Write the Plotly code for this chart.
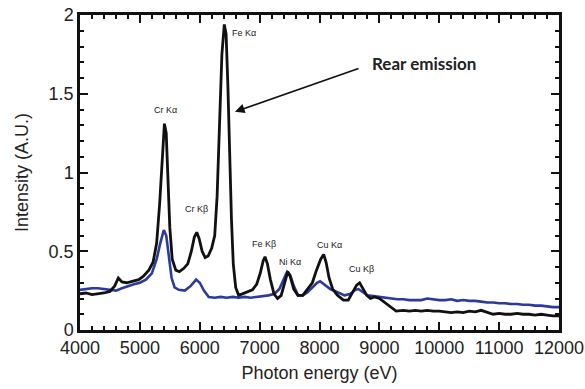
import plotly.graph_objects as go

# Rear emission (black)
rear_x = [4000, 4100, 4200, 4300, 4400, 4500, 4580, 4640, 4700, 4780, 4890, 4980, 5055, 5150, 5220, 5280,
          5330, 5370, 5410, 5440, 5470, 5500, 5540, 5600, 5660, 5730, 5800, 5860, 5910, 5950, 5990, 6040,
          6090, 6140, 6200, 6250, 6290, 6330, 6370, 6410, 6440, 6470, 6500, 6530, 6560, 6600, 6650, 6720,
          6800, 6880, 6950, 7010, 7060, 7090, 7130, 7180, 7240, 7300, 7360, 7420, 7470, 7510, 7570, 7640,
          7720, 7800, 7880, 7950, 8020, 8070, 8110, 8160, 8220, 8300, 8400, 8480, 8560, 8620, 8670, 8720,
          8790, 8850, 8920, 9000, 9100, 9200, 9280, 9400, 9500, 9600, 9700, 9800, 9900, 10000, 10100, 10200,
          10300, 10400, 10500, 10600, 10700, 10800, 10900, 11000, 11100, 11200, 11300, 11400, 11500, 11600,
          11700, 11800, 11900, 12000]
rear_y = [0.23, 0.235, 0.225, 0.23, 0.235, 0.245, 0.28, 0.33, 0.305, 0.30, 0.31, 0.32, 0.34, 0.38, 0.43, 0.55,
          0.80, 1.10, 1.31, 1.25, 0.95, 0.65, 0.45, 0.38, 0.37, 0.39, 0.42, 0.50, 0.59, 0.62, 0.58, 0.50,
          0.46, 0.47, 0.52, 0.60, 0.85, 1.30, 1.75, 1.94, 1.88, 1.55, 1.10, 0.70, 0.42, 0.27, 0.22, 0.23,
          0.245, 0.255, 0.29, 0.36, 0.44, 0.465, 0.42, 0.32, 0.23, 0.20, 0.22, 0.30, 0.37, 0.34, 0.26, 0.22,
          0.22, 0.26, 0.30, 0.38, 0.45, 0.48, 0.43, 0.33, 0.26, 0.22, 0.19, 0.19, 0.24, 0.285, 0.30, 0.27,
          0.22, 0.20, 0.21, 0.20, 0.17, 0.14, 0.12, 0.125, 0.12, 0.125, 0.12, 0.125, 0.12, 0.12, 0.115, 0.11,
          0.115, 0.11, 0.12, 0.115, 0.125, 0.11, 0.10, 0.105, 0.10, 0.10, 0.105, 0.10, 0.10, 0.095,
          0.10, 0.095, 0.09, 0.09]

# Second spectrum (blue)
blue_x = [4000, 4100, 4200, 4300, 4400, 4500, 4600, 4700, 4800, 4900, 5000, 5100, 5200, 5280, 5340, 5400,
          5440, 5480, 5530, 5580, 5650, 5750, 5850, 5940, 6000, 6070, 6150, 6250, 6350, 6450, 6550, 6650,
          6750, 6850, 6950, 7050, 7150, 7250, 7330, 7400, 7460, 7510, 7570, 7640, 7720, 7800, 7880, 7960,
          8010, 8080, 8180, 8300, 8420, 8520, 8600, 8650, 8720, 8800, 8900, 9000, 9100, 9200, 9300, 9400,
          9500, 9600, 9700, 9800, 9900, 10000, 10100, 10200, 10300, 10400, 10500, 10600, 10700, 10800, 10900,
          11000, 11100, 11200, 11300, 11400, 11500, 11600, 11700, 11800, 11900, 12000]
blue_y = [0.255, 0.26, 0.265, 0.265, 0.26, 0.255, 0.25, 0.265, 0.28, 0.29, 0.30, 0.32, 0.36, 0.45, 0.55, 0.635,
          0.60, 0.48, 0.33, 0.27, 0.255, 0.25, 0.28, 0.32, 0.30, 0.25, 0.21, 0.205, 0.21, 0.205, 0.21, 0.205,
          0.21, 0.205, 0.21, 0.215, 0.22, 0.23, 0.26, 0.32, 0.37, 0.35, 0.28, 0.22, 0.22, 0.24, 0.27, 0.30,
          0.31, 0.29, 0.26, 0.24, 0.22, 0.23, 0.255, 0.26, 0.24, 0.22, 0.215, 0.21, 0.205, 0.20, 0.195, 0.195,
          0.19, 0.19, 0.19, 0.20, 0.195, 0.19, 0.19, 0.195, 0.185, 0.19, 0.185, 0.185, 0.18, 0.175, 0.175,
          0.17, 0.17, 0.165, 0.165, 0.16, 0.16, 0.155, 0.155, 0.15, 0.145, 0.145]

# Peak labels
peak_labels = ["Cr K\u03b1", "Cr K\u03b2", "Fe K\u03b1", "Fe K\u03b2", "Ni K\u03b1", "Cu K\u03b1", "Cu K\u03b2"]
peak_label_x = [5420, 5948, 6739, 7073, 7507, 8175, 8704]
peak_label_y = [1.397, 0.768, 1.886, 0.544, 0.434, 0.54, 0.387]

x_ticks = [4000, 5000, 6000, 7000, 8000, 9000, 10000, 11000, 12000]
x_tick_text = ["4000", "5000", "6000", "7000", "8000", "9000", "10000", "11000", "12000"]
y_ticks = [0, 0.5, 1, 1.5, 2]
y_tick_text = ["0", "0.5", "1", "1.5", "2"]

fig = go.Figure()
fig.add_trace(go.Scatter(x=blue_x, y=blue_y, mode="lines",
                         line=dict(color="#2b3a9c", width=2.6), showlegend=False))
fig.add_trace(go.Scatter(x=rear_x, y=rear_y, mode="lines",
                         line=dict(color="#111111", width=2.8), showlegend=False))

for t, px, py in zip(peak_labels, peak_label_x, peak_label_y):
    fig.add_annotation(x=px, y=py, xref="x", yref="y", text=t, showarrow=False,
                       font=dict(family="Liberation Sans", size=9, color="#222"))

fig.add_annotation(x=8843, y=1.693, xref="x", yref="y", text="Rear emission", showarrow=False,
                   xanchor="left", font=dict(family="Lato", size=17, color="#222", weight=700))
fig.add_annotation(x=6588, y=1.386, ax=8676, ay=1.663, xref="x", yref="y", axref="x", ayref="y",
                   text="", showarrow=True, arrowhead=2, arrowsize=1.2, arrowwidth=1.6, arrowcolor="#111")

axis_font = dict(family="Liberation Sans", size=18, color="#222")
fig.update_xaxes(range=[4000, 12000], tickvals=x_ticks, ticktext=x_tick_text, ticks="inside", ticklen=8,
                 tickwidth=2, tickcolor="#111", showline=True, linecolor="#111", linewidth=2.5,
                 mirror="allticks", showgrid=False, zeroline=False, tickfont=axis_font, automargin=False,
                 minor=dict(dtick=200, ticks="inside", ticklen=4, tickwidth=1.5, tickcolor="#111"),
                 title=dict(text="Photon energy (eV)", font=axis_font, standoff=10))
fig.update_yaxes(range=[0, 2], tickvals=y_ticks, ticktext=y_tick_text, ticks="inside", ticklen=8, tickwidth=2,
                 tickcolor="#111", showline=True, linecolor="#111", linewidth=2.5, mirror="allticks",
                 showgrid=False, zeroline=False, tickfont=axis_font, automargin=False,
                 minor=dict(dtick=0.1, ticks="inside", ticklen=4, tickwidth=1.5, tickcolor="#111"),
                 title=dict(text="Intensity (A.U.)", font=axis_font, standoff=16))

fig.update_layout(width=585, height=389, margin=dict(l=80, r=26, t=15, b=59),
                  plot_bgcolor="white", paper_bgcolor="white")

fig.write_html("out.html")
